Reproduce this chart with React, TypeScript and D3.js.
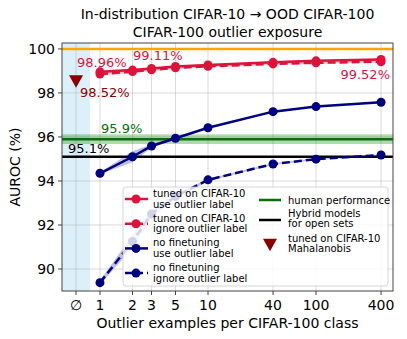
import React from "react";
import * as d3 from "d3";

// x positions (0.6 stands in for the "no outliers" slot)
const xTicks = [0.6, 1, 2, 3, 5, 10, 40, 100, 400];
const xTickLabels = ["∅", "1", "2", "3", "5", "10", "40", "100", "400"];
const outlierCounts = [1, 2, 3, 5, 10, 40, 100, 400];
const yTicks = [90, 92, 94, 96, 98, 100];

const tunedUse = [98.96, 99.04, 99.11, 99.2, 99.27, 99.39, 99.46, 99.52];
const tunedUseErr = [0.06, 0.06, 0.05, 0.05, 0.04, 0.04, 0.04, 0.04];
const tunedIgnore = [98.86, 98.97, 99.05, 99.14, 99.21, 99.32, 99.37, 99.42];
const tunedIgnoreErr = [0.06, 0.08, 0.05, 0.05, 0.04, 0.04, 0.04, 0.04];
const noFtUse = [94.35, 95.1, 95.59, 95.94, 96.42, 97.15, 97.38, 97.58];
const noFtUseErr = [0.05, 0.25, 0.08, 0.05, 0.03, 0.03, 0.03, 0.03];
const noFtIgnore = [89.38, 91.25, 92.5, 93.3, 94.05, 94.77, 94.99, 95.18];
const noFtIgnoreErr = [0.1, 0.3, 0.2, 0.1, 0.05, 0.04, 0.04, 0.04];

const perfect = 100;
const human = 95.9;
const humanErr = 0.22;
const hybrid = 95.1;
const mahalanobis = 98.52;

const W = 407;
const H = 339;
const font = "DejaVu Sans, sans-serif";

const App = () => {
  const x = d3.scaleLog().domain([0.445, 516]).range([62, 393]);
  const y = d3.scaleLinear().domain([89, 100.27]).range([291, 43]);
  const [x0, x1] = x.range();
  const [y0, y1] = y.range();

  const line = d3
    .line<number>()
    .x((_, i) => x(outlierCounts[i]))
    .y((d) => y(d));

  const band = (vals: number[], err: number[]) =>
    d3
      .area<number>()
      .x((_, i) => x(outlierCounts[i]))
      .y0((d, i) => y(d - err[i]))
      .y1((d, i) => y(d + err[i]))(vals) || "";

  const series = [
    { vals: noFtIgnore, err: noFtIgnoreErr, color: "#000080", dash: "8,4" },
    { vals: noFtUse, err: noFtUseErr, color: "#000080", dash: null },
    { vals: tunedIgnore, err: tunedIgnoreErr, color: "#dc143c", dash: "8,4" },
    { vals: tunedUse, err: tunedUseErr, color: "#dc143c", dash: null },
  ];

  const tri = (cx: number, cy: number, s: number) =>
    `M${cx - s},${cy - s * 0.9} L${cx + s},${cy - s * 0.9} L${cx},${cy + s * 0.9} Z`;

  const legendLeft = [
    { lines: ["tuned on CIFAR-10", "use outlier label"], color: "#dc143c", dash: null },
    { lines: ["tuned on CIFAR-10", "ignore outlier label"], color: "#dc143c", dash: "7,4" },
    { lines: ["no finetuning", "use outlier label"], color: "#000080", dash: null },
    { lines: ["no finetuning", "ignore outlier label"], color: "#000080", dash: "7,4" },
  ];

  return (
    <svg
      width={W}
      height={H}
      style={{ position: "absolute", left: 0, top: 0, background: "#fff" }}
      fontFamily={font}
    >
      <rect x={0} y={0} width={W} height={H} fill="#fff" />
      {/* no-outlier band */}
      <rect x={x0} y={y1} width={x(0.808) - x0} height={y0 - y1} fill="#dbf0f9" />

      {/* grid */}
      {xTicks.map((t) => (
        <line key={"gx" + t} x1={x(t)} x2={x(t)} y1={y1} y2={y0} stroke="#b0b0b0" strokeOpacity={0.6} strokeWidth={0.8} />
      ))}
      {yTicks.map((t) => (
        <line key={"gy" + t} x1={x0} x2={x1} y1={y(t)} y2={y(t)} stroke="#b0b0b0" strokeOpacity={0.6} strokeWidth={0.8} />
      ))}

      {/* reference lines */}
      <line x1={x0} x2={x1} y1={y(perfect)} y2={y(perfect)} stroke="#ffa500" strokeWidth={2.5} />
      <rect x={x0} y={y(human + humanErr)} width={x1 - x0} height={y(human - humanErr) - y(human + humanErr)} fill="#008000" opacity={0.3} />
      <line x1={x0} x2={x1} y1={y(human)} y2={y(human)} stroke="#0a6e0a" strokeWidth={2.5} />
      <line x1={x0} x2={x1} y1={y(hybrid)} y2={y(hybrid)} stroke="#000" strokeWidth={2.5} />

      {/* series */}
      {series.map((s, k) => (
        <g key={"s" + k}>
          <path d={band(s.vals, s.err)} fill={s.color} opacity={0.25} />
          <path d={line(s.vals) || ""} fill="none" stroke={s.color} strokeWidth={2.5} strokeDasharray={s.dash || undefined} />
          {s.vals.map((v, i) => (
            <circle key={i} cx={x(outlierCounts[i])} cy={y(v)} r={4.5} fill={s.color} />
          ))}
        </g>
      ))}

      {/* Mahalanobis */}
      <path d={tri(x(0.6), y(mahalanobis), 7)} fill="#8b0000" />

      {/* value labels */}
      <g fontSize={13}>
        <text x={77} y={67} fill="#dc143c">98.96%</text>
        <text x={133} y={60} fill="#dc143c">99.11%</text>
        <text x={390} y={79} fill="#dc143c" textAnchor="end">99.52%</text>
        <text x={80} y={97} fill="#8b0000">98.52%</text>
        <text x={101} y={133} fill="#0a6e0a">95.9%</text>
        <text x={68} y={153} fill="#000">95.1%</text>
      </g>

      {/* legend */}
      <rect x={123} y={187} width={265} height={99} rx={3} fill="#fff" fillOpacity={0.82} stroke="#cccccc" strokeWidth={0.8} />
      <g fontSize={10} fill="#000">
        {legendLeft.map((e, i) => {
          const cy = 199 + i * 24.7;
          return (
            <g key={"l" + i}>
              <line x1={125} x2={148} y1={cy} y2={cy} stroke={e.color} strokeWidth={2.5} strokeDasharray={e.dash || undefined} />
              <circle cx={136} cy={cy} r={4.5} fill={e.color} />
              <text x={153} y={cy - 2}>{e.lines[0]}</text>
              <text x={153} y={cy + 8.5}>{e.lines[1]}</text>
            </g>
          );
        })}
        <line x1={259} x2={281} y1={200} y2={200} stroke="#0a6e0a" strokeWidth={2.5} />
        <text x={288} y={203.5}>human performance</text>
        <line x1={259} x2={281} y1={220} y2={220} stroke="#000" strokeWidth={2.5} />
        <text x={288} y={216.5}>Hybrid models</text>
        <text x={288} y={227}>for open sets</text>
        <path d={tri(270, 245, 7)} fill="#8b0000" />
        <text x={288} y={241.5}>tuned on CIFAR-10</text>
        <text x={288} y={252}>Mahalanobis</text>
      </g>

      {/* axes frame */}
      <rect x={x0} y={y1} width={x1 - x0} height={y0 - y1} fill="none" stroke="#444" strokeWidth={1} />

      {/* ticks */}
      <g fontSize={14}>
        {yTicks.map((t) => (
          <g key={"yt" + t}>
            <line x1={x0 - 4} x2={x0} y1={y(t)} y2={y(t)} stroke="#444" />
            <text x={x0 - 7} y={y(t) + 5} textAnchor="end">{t}</text>
          </g>
        ))}
        {xTicks.map((t, i) => (
          <g key={"xt" + t}>
            <line x1={x(t)} x2={x(t)} y1={y0} y2={y0 + 4} stroke="#444" />
            <text x={x(t)} y={y0 + 19} textAnchor="middle">{xTickLabels[i]}</text>
          </g>
        ))}
      </g>

      {/* axis titles */}
      <text x={(x0 + x1) / 2} y={328} fontSize={14} textAnchor="middle">Outlier examples per CIFAR-100 class</text>
      <text transform={`translate(20,${(y0 + y1) / 2}) rotate(-90)`} fontSize={14} textAnchor="middle">AUROC (%)</text>
      <text x={(x0 + x1) / 2} y={19} fontSize={14} textAnchor="middle">In-distribution CIFAR-10 → OOD CIFAR-100</text>
      <text x={(x0 + x1) / 2} y={37} fontSize={14} textAnchor="middle">CIFAR-100 outlier exposure</text>
    </svg>
  );
};

export default App;
